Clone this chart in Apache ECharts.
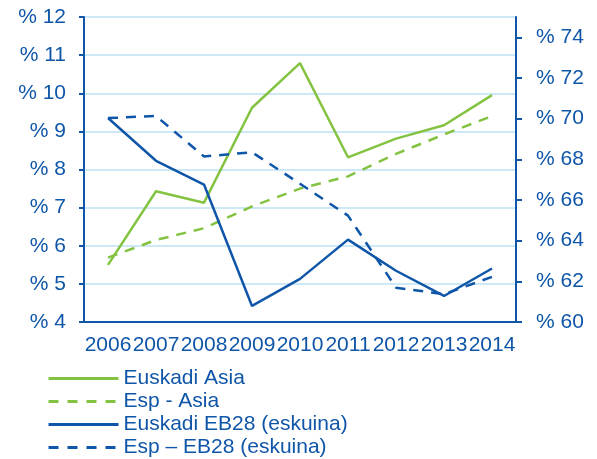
<!DOCTYPE html>
<html>
<head>
<meta charset="utf-8">
<script src="https://cdn.jsdelivr.net/npm/echarts@6/dist/echarts.min.js"></script>
<style>
html, body { margin: 0; padding: 0; background: #fff; }
#chart { width: 597px; height: 459px; }
</style>
</head>
<body>
<div id="chart"></div>
<script>
// data
var years = ['2006', '2007', '2008', '2009', '2010', '2011', '2012', '2013', '2014'];
var euskadiAsia = [5.5, 7.43, 7.13, 9.62, 10.79, 8.32, 8.81, 9.16, 9.95];
var espAsia = [5.69, 6.15, 6.46, 7.03, 7.5, 7.82, 8.41, 8.92, 9.4];
var euskadiEB28 = [70.03, 67.93, 66.76, 60.79, 62.12, 64.05, 62.52, 61.28, 62.63];
var espEB28 = [70.03, 70.13, 68.14, 68.35, 66.8, 65.23, 61.69, 61.37, 62.22];
var rightTicks = [60, 62, 64, 66, 68, 70, 72, 74];

var blue = '#0f56a8';
var green = '#84c341';
var font = 'Liberation Sans, Arial, sans-serif';

function pct(v)
{
    return '% ' + v;
}

var myChart = echarts.init(document.getElementById('chart'));
var option = {
    animation: false,
    textStyle: {fontFamily: font},
    grid: {left: 84, right: 81, top: 17, bottom: 137},
    legend: {
        orient: 'vertical',
        left: 47,
        top: 368,
        padding: 0,
        itemWidth: 70,
        itemHeight: 14,
        itemGap: 2,
        itemStyle: {opacity: 0},
        lineStyle: {width: 3},
        textStyle: {fontSize: 21, lineHeight: 20, color: blue, fontFamily: font},
        data: [
            {name: 'Euskadi Asia'},
            {name: 'Esp - Asia', lineStyle: {type: [10, 9]}},
            {name: 'Euskadi EB28 (eskuina)'},
            {name: 'Esp \u2013 EB28 (eskuina)', lineStyle: {type: [10, 9]}}
        ]
    },
    xAxis: {
        type: 'category',
        data: years,
        boundaryGap: true,
        axisLine: {lineStyle: {color: blue, width: 2}},
        axisTick: {length: 5, lineStyle: {color: blue, width: 2}},
        axisLabel: {interval: 0, margin: 13, fontSize: 21, color: blue, fontFamily: font}
    },
    yAxis: [
        {
            type: 'value',
            min: 4,
            max: 12,
            interval: 1,
            axisLine: {show: true, lineStyle: {color: blue, width: 2}},
            axisTick: {show: true, length: 5, lineStyle: {color: blue, width: 2}},
            axisLabel: {margin: 18, fontSize: 21, color: blue, fontFamily: font, formatter: pct},
            splitLine: {lineStyle: {color: '#bde2f4', width: 1.5}}
        },
        {
            type: 'value',
            min: 60,
            max: 75,
            interval: 2,
            position: 'right',
            axisLine: {show: true, lineStyle: {color: blue, width: 2}},
            axisTick: {show: true, length: 6, customValues: rightTicks, lineStyle: {color: blue, width: 2}},
            axisLabel: {margin: 20, fontSize: 21, color: blue, fontFamily: font, customValues: rightTicks, formatter: pct},
            splitLine: {show: false}
        }
    ],
    series: [
        {
            name: 'Euskadi Asia',
            type: 'line',
            yAxisIndex: 0,
            data: euskadiAsia,
            symbol: 'none',
            color: green,
            lineStyle: {color: green, width: 2.5}
        },
        {
            name: 'Esp - Asia',
            type: 'line',
            yAxisIndex: 0,
            data: espAsia,
            symbol: 'none',
            color: green,
            lineStyle: {color: green, width: 2.5, type: [10, 8]}
        },
        {
            name: 'Euskadi EB28 (eskuina)',
            type: 'line',
            yAxisIndex: 1,
            data: euskadiEB28,
            symbol: 'none',
            color: blue,
            lineStyle: {color: blue, width: 2.5}
        },
        {
            name: 'Esp \u2013 EB28 (eskuina)',
            type: 'line',
            yAxisIndex: 1,
            data: espEB28,
            symbol: 'none',
            color: blue,
            lineStyle: {color: blue, width: 2.5, type: [10, 8]}
        }
    ]
};
myChart.setOption(option);
</script>
</body>
</html>
